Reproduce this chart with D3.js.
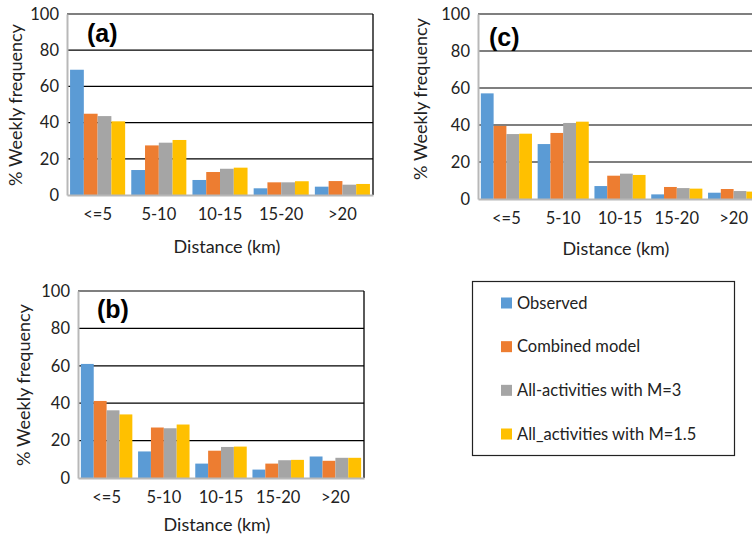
<!DOCTYPE html>
<meta charset="utf-8">
<style>
body { margin: 0; background: #fff; }
text { font-family: Lato, "Open Sans", sans-serif; fill: #222; }
.tick text { font-size: 16.5px; }
.title { font-size: 18px; }
.tag { font-family: "Liberation Sans", Arial, sans-serif; font-weight: 700; font-size: 25px; fill: #000; }
.legend text { font-size: 16.5px; }
</style>
<body>
<div id="chart"></div>
<script src="https://d3js.org/d3.v7.min.js"></script>
<script>

var categories = ['<=5', '5-10', '10-15', '15-20', '>20'];
var series = ['Observed', 'Combined model', 'All-activities with M=3', 'All_activities with M=1.5'];
var colors = ['#5B9BD5', '#ED7D31', '#A5A5A5', '#FFC000'];
var yTicks = [0, 20, 40, 60, 80, 100];

// values per series, one entry per distance class
var panelA = [
  [69.2, 13.8, 8.3, 3.7, 4.6],
  [44.9, 27.4, 12.7, 7.0, 7.7],
  [43.6, 28.9, 14.5, 7.0, 5.7],
  [40.7, 30.4, 15.1, 7.6, 6.1]
];
var panelB = [
  [61.0, 14.2, 7.7, 4.5, 11.5],
  [41.2, 27.0, 14.6, 7.7, 9.2],
  [36.2, 26.6, 16.6, 9.5, 10.8],
  [34.0, 28.6, 16.8, 9.7, 10.8]
];
var panelC = [
  [57.1, 29.7, 7.0, 2.5, 3.4],
  [39.5, 35.7, 12.6, 6.5, 5.4],
  [35.1, 41.1, 13.7, 5.9, 4.3],
  [35.3, 41.8, 13.0, 5.6, 4.0]
];

var W = 752, H = 539;
var svg = d3.select("#chart").append("svg")
    .attr("width", W).attr("height", H);
svg.append("rect").attr("width", W).attr("height", H).attr("fill", "#fff");

function drawPanel(values, tag, box) {
  var x = d3.scaleBand().domain(categories)
      .range([box.left, box.right]).paddingInner(0.1).paddingOuter(0.05);
  var xs = d3.scaleBand().domain(d3.range(series.length))
      .range([0, x.bandwidth()]);
  var y = d3.scaleLinear().domain([0, 100]).range([box.bottom, box.top]);

  var g = svg.append("g");

  // gridlines
  g.selectAll("line.grid").data(yTicks.filter(d => d > 0)).enter()
    .append("line").attr("class", "grid")
    .attr("x1", box.left).attr("x2", box.right)
    .attr("y1", d => y(d)).attr("y2", d => y(d))
    .attr("stroke", "#000").attr("stroke-width", 1.2);

  // right frame
  g.append("line")
    .attr("x1", box.right).attr("x2", box.right)
    .attr("y1", box.top).attr("y2", box.bottom)
    .attr("stroke", "#000").attr("stroke-width", 1.3);

  // bars
  series.forEach(function(s, i) {
    g.selectAll("rect.s" + i).data(values[i]).enter()
      .append("rect").attr("class", "s" + i)
      .attr("x", (d, j) => x(categories[j]) + xs(i))
      .attr("width", xs.bandwidth())
      .attr("y", d => y(d))
      .attr("height", d => y(0) - y(d))
      .attr("fill", colors[i]);
  });

  // y axis
  var ya = g.append("g").attr("transform", "translate(" + box.left + ",0)")
    .call(d3.axisLeft(y).tickValues(yTicks).tickSize(0).tickPadding(8));
  ya.select(".domain").attr("stroke", "#b8b8b8").attr("stroke-width", 2);
  ya.selectAll(".tick text").attr("fill", "#222");

  // x axis
  var xa = g.append("g").attr("transform", "translate(0," + box.bottom + ")")
    .call(d3.axisBottom(x).tickSize(0).tickPadding(13));
  xa.select(".domain").attr("stroke", "#b8b8b8").attr("stroke-width", 2);
  xa.selectAll(".tick text").attr("fill", "#222");

  g.append("text").attr("class", "title")
    .attr("x", box.xtx).attr("y", box.xty)
    .attr("text-anchor", "middle").text("Distance (km)");

  g.append("text").attr("class", "title")
    .attr("transform", "translate(" + box.ytx + "," + box.yty + ") rotate(-90)")
    .attr("text-anchor", "middle").attr("dy", "0.35em")
    .text("% Weekly frequency");

  g.append("text").attr("class", "tag")
    .attr("x", box.tagx).attr("y", box.tagy).text(tag);
}

drawPanel(panelA, "(a)", {left: 67, right: 373, top: 14, bottom: 195,
  xtx: 227, xty: 253, ytx: 16, yty: 105, tagx: 87, tagy: 42});
drawPanel(panelC, "(c)", {left: 478, right: 762, top: 14, bottom: 199,
  xtx: 616, xty: 255, ytx: 421, yty: 99, tagx: 489, tagy: 46});
drawPanel(panelB, "(b)", {left: 78, right: 364, top: 291, bottom: 478,
  xtx: 217, xty: 531, ytx: 24, yty: 385, tagx: 97, tagy: 318});

// legend
var lg = svg.append("g").attr("class", "legend");
lg.append("rect").attr("x", 472.5).attr("y", 281.5)
  .attr("width", 262).attr("height", 174)
  .attr("fill", "none").attr("stroke", "#222").attr("stroke-width", 1.2);
var ly = d3.scalePoint().domain(series).range([303, 434]);
series.forEach(function(s, i) {
  lg.append("rect").attr("x", 501).attr("y", ly(s) - 5.5)
    .attr("width", 11).attr("height", 11).attr("fill", colors[i]);
  lg.append("text").attr("x", 517).attr("y", ly(s))
    .attr("dy", "0.35em").text(s);
});

</script>
</body>
</html>
